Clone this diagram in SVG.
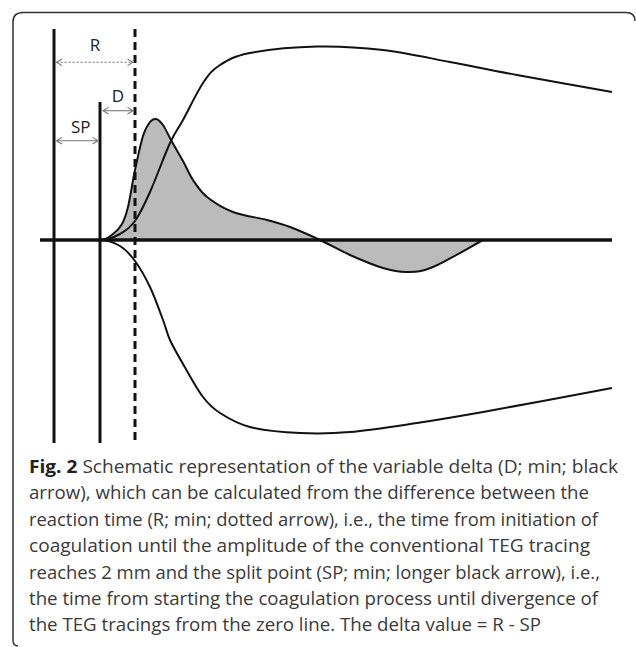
<svg xmlns="http://www.w3.org/2000/svg" width="636" height="647" viewBox="0 0 636 647">
<defs>
<style>
.frame{fill:none;stroke:#333;stroke-width:1.5}
.bar{stroke:#111;stroke-width:3;fill:none}
.axis{stroke:#111;stroke-width:3.5;fill:none}
.curve{stroke:#111;stroke-width:2;fill:none;stroke-linejoin:round}
.bell{fill:#bbbbbb;stroke:#111;stroke-width:2;stroke-linejoin:round}
.dim{stroke:#777;stroke-width:1.1;fill:none}
.dot{stroke-dasharray:2.2 1.8}
.head{stroke:#777;stroke-width:1.1;fill:none}
.lbl{font-family:"Open Sans","DejaVu Sans",sans-serif;font-size:17px;fill:#222;text-anchor:middle}
.cap{font-family:"Open Sans","Liberation Sans",sans-serif;font-size:18px;fill:#3a3a3a}
.b{font-weight:bold;fill:#222}
</style>
</defs>
<path class="frame" d="M18,646 Q13,646 13,640 L13,22 Q13,12.5 23,12.5 L626,12.5 Q635,12.5 635,21"/>
<g id="delta-area">
<path class="bell" d="M100,240 C106,240 109.3,236.7 113,234 C116.7,231.3 119.5,228.5 122,224 C124.5,219.5 125.8,216 128,207 C130.2,198 132.5,181.8 135,170 C137.5,158.2 140.5,144 143,136 C145.5,128 147.8,124.8 150,122 C152.2,119.2 153.8,118.5 156,119 C158.2,119.5 160.5,121.5 163,125 C165.5,128.5 167.7,134 171,140 C174.3,146 179.3,154.3 183,161 C186.7,167.7 189,174 193,180 C197,186 200.3,191.7 207,197 C213.7,202.3 223,208.2 233,212 C243,215.8 257.5,217.5 267,220 C276.5,222.5 281.2,223.7 290,227 C298.8,230.3 310,235.3 320,240 C330,244.7 339.5,250.3 350,255 C360.5,259.7 373.5,265.2 383,268 C392.5,270.8 398.7,272.2 407,272 C415.3,271.8 420.3,272.3 433,267 C445.7,261.7 474.7,244.5 483,240 Z"/>
</g>
<g id="zero-line">
<line class="axis" x1="40" y1="240" x2="612" y2="240"/>
</g>
<g id="teg-upper">
<path class="curve" d="M100,240 C108,240 114.2,237.2 120,234 C125.8,230.8 130,228 135,221 C140,214 144.2,205 150,192 C155.8,179 164.5,155 170,143 C175.5,131 177.5,130 183,120 C188.5,110 196.8,92.2 203,83 C209.2,73.8 212.2,70 220,65 C227.8,60 233.8,56.1 250,53 C266.2,49.9 294.8,47 317,46.5 C339.2,46 360.8,47.4 383,50 C405.2,52.6 427.7,57.8 450,62 C472.3,66.2 490,70 517,75 C544,80 596.2,89.2 612,92"/>
</g>
<g id="teg-lower">
<path class="curve" d="M100,240 C108,240 114.2,242.5 120,246 C125.8,249.5 130,254.2 135,261 C140,267.8 145.3,277.2 150,287 C154.7,296.8 159.7,311.2 163,320 C166.3,328.8 166.7,332.7 170,340 C173.3,347.3 177.5,354.5 183,364 C188.5,373.5 196.8,388.8 203,397 C209.2,405.2 212.2,408 220,413 C227.8,418 236.7,423.7 250,427 C263.3,430.3 283.3,432.2 300,433 C316.7,433.8 330.5,433.7 350,432 C369.5,430.3 394.8,426.3 417,423 C439.2,419.7 450.5,417.8 483,412 C515.5,406.2 590.5,392 612,388"/>
</g>
<g id="start-line">
<line class="bar" x1="54" y1="29" x2="54" y2="443"/>
</g>
<g id="split-point-line">
<line class="bar" x1="100" y1="102" x2="100" y2="443"/>
</g>
<g id="r-line">
<line class="bar" x1="135" y1="29" x2="135" y2="443" stroke-width="2.6" stroke-dasharray="8 5"/>
</g>
<g id="connectors">
<line class="dim dot" x1="56.5" y1="62.3" x2="133" y2="62.3"/>
<polyline class="head" points="62,59 56.5,62.3 62,65.6"/>
<polyline class="head" points="127.5,59 133,62.3 127.5,65.6"/>
<line class="dim" x1="103" y1="110.7" x2="133" y2="110.7"/>
<polyline class="head" points="108.5,107.4 103,110.7 108.5,114"/>
<polyline class="head" points="127.5,107.4 133,110.7 127.5,114"/>
<line class="dim" x1="56.5" y1="140.7" x2="98" y2="140.7"/>
<polyline class="head" points="62,137.4 56.5,140.7 62,144"/>
<polyline class="head" points="92.5,137.4 98,140.7 92.5,144"/>
</g>
<g id="labels">
<text class="lbl" x="95" y="51">R</text>
<text class="lbl" x="118" y="102">D</text>
<text class="lbl" x="80.7" y="133">SP</text>
</g>
<g id="caption">
<text class="cap" x="29" y="473" textLength="589" lengthAdjust="spacingAndGlyphs"><tspan class="b">Fig. 2</tspan> Schematic representation of the variable delta (D; min; black</text>
<text class="cap" x="29" y="499.4" textLength="560" lengthAdjust="spacingAndGlyphs">arrow), which can be calculated from the difference between the</text>
<text class="cap" x="29" y="525.8" textLength="569" lengthAdjust="spacingAndGlyphs">reaction time (R; min; dotted arrow), i.e., the time from initiation of</text>
<text class="cap" x="29" y="552.2" textLength="561" lengthAdjust="spacingAndGlyphs">coagulation until the amplitude of the conventional TEG tracing</text>
<text class="cap" x="29" y="578.6" textLength="571" lengthAdjust="spacingAndGlyphs">reaches 2 mm and the split point (SP; min; longer black arrow), i.e.,</text>
<text class="cap" x="29" y="605" textLength="569" lengthAdjust="spacingAndGlyphs">the time from starting the coagulation process until divergence of</text>
<text class="cap" x="29" y="631.4" textLength="512" lengthAdjust="spacingAndGlyphs">the TEG tracings from the zero line. The delta value = R - SP</text>
</g>
</svg>
